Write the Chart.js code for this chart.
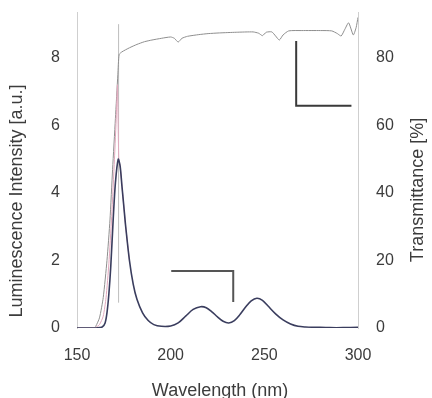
<!DOCTYPE html>
<html>
<head>
<meta charset="utf-8">
<script src="https://cdn.jsdelivr.net/npm/chart.js@4/dist/chart.umd.min.js"></script>
<style>
  html, body { margin: 0; padding: 0; background: #ffffff; }
  #wrap { width: 432px; height: 398px; position: relative; }
</style>
</head>
<body>
<div id="wrap"><canvas id="c" width="432" height="398"></canvas></div>
<script>
// ---- Data ----
const lumWavelengths = [150,156,160,162,163.5,165,166,167,168,169.3,170.5,172,173,174,175,176,178,180,182,185,188,191,195,200,204,208,212,216,219,222,225,228,231,234,237,240,243,246,249,252,256,260,264,268,272,278,285,292,300];
const lumValues      = [0,0,0,0.01,0.03,0.15,0.45,1.0,1.8,3.2,4.3,5.0,4.8,4.2,3.6,3.0,2.0,1.3,0.85,0.45,0.22,0.1,0.05,0.06,0.15,0.35,0.55,0.63,0.6,0.48,0.33,0.2,0.15,0.22,0.4,0.62,0.8,0.88,0.82,0.65,0.42,0.24,0.12,0.05,0.03,0.02,0.01,0.01,0.02];

const refWavelengths = [150,158,160,162,164,165.5,167,168.5,170,171,171.6,172.3,173,174,175,176,178];
const refValues      = [0,0,0.02,0.1,0.35,0.9,1.9,3.3,5.0,6.3,7.2,5.0,4.8,4.2,3.6,3.0,2.0];

const transWavelengths = [150,159,160,162,164,166,167.6,169,170.5,171.8,172.5,174,178,182,186,190,195,200,202,204,206,209,215,220,226,235,244,247,249,251,254,256,258,260,263,270,280,286,289,291,293,295,297.5,299,300];
const transValues      = [0,0,0.5,3,9,20,32,47,62,75,81,81.8,83,84,84.8,85.3,85.8,86.2,85.8,84.7,85.8,86.4,86.9,87.2,87.4,87.6,87.7,87.3,86.6,87.6,87.7,86.5,85.3,86.8,88,88.1,88.1,88,87.2,86.5,88.5,90.4,86.8,89,92];

// excitation marker line (luminescence units)
const markerWavelength = [172.2, 172.2];
const markerValues     = [0.75, 9.0];

// axis-indicator brackets
const transBracketWl  = [267, 267, 296.5];
const transBracketVal = [85, 65.8, 65.8];
const lumBracketWl    = [200.3, 233.4, 233.4];
const lumBracketVal   = [1.69, 1.69, 0.77];

// axes
const xMin = 150, xMax = 300, xStep = 50;
const lumMax = 9.36, lumStep = 2;
const transMax = 93.6, transStep = 20;

const xTitle = 'Wavelength (nm)';
const yTitle = 'Luminescence Intensity [a.u.]';
const y1Title = 'Transmittance [%]';

function pts(xs, ys) { return xs.map((x, i) => ({ x: x, y: ys[i] })); }

const FONT = 'Liberation Sans, Arial, Helvetica, sans-serif';
const TXT = '#3c3c3c';

function noPad(s) { s.paddingTop = 0; s.paddingBottom = 0; s.paddingLeft = 0; s.paddingRight = 0; }

// axis titles (both vertical titles read bottom-to-top, as in the reference)
const titlePlugin = {
  id: 'axisTitles',
  afterDraw(chart) {
    const ctx = chart.ctx;
    ctx.save();
    ctx.fillStyle = TXT;
    ctx.font = '18px ' + FONT;
    ctx.textAlign = 'center';
    ctx.textBaseline = 'middle';
    ctx.fillText(xTitle, 220, 391);
    ctx.save();
    ctx.translate(17, 201);
    ctx.rotate(-Math.PI / 2);
    ctx.fillText(yTitle, 0, 0);
    ctx.restore();
    ctx.save();
    ctx.translate(418, 190);
    ctx.rotate(-Math.PI / 2);
    ctx.fillText(y1Title, 0, 0);
    ctx.restore();
    ctx.restore();
  }
};

new Chart(document.getElementById('c'), {
  type: 'line',
  data: {
    datasets: [
      { data: pts(lumWavelengths, lumValues), yAxisID: 'y', borderColor: '#3a3d5e', borderWidth: 1.6, pointRadius: 0, tension: 0.3 },
      { data: pts(refWavelengths, refValues), yAxisID: 'y', borderColor: '#e2a8bd', borderWidth: 1, pointRadius: 0, tension: 0.2 },
      { data: pts(transWavelengths, transValues), yAxisID: 'y1', borderColor: '#8e8e8e', borderWidth: 1, pointRadius: 0, tension: 0.2 },
      { data: pts(markerWavelength, markerValues), yAxisID: 'y', borderColor: '#bdbdbd', borderWidth: 1, pointRadius: 0 },
      { data: pts(transBracketWl, transBracketVal), yAxisID: 'y1', borderColor: '#3a3a3a', borderWidth: 2, pointRadius: 0 },
      { data: pts(lumBracketWl, lumBracketVal), yAxisID: 'y', borderColor: '#555555', borderWidth: 2, pointRadius: 0 }
    ]
  },
  plugins: [titlePlugin],
  options: {
    responsive: false,
    animation: false,
    events: [],
    layout: { padding: { top: 12, left: 0, right: 0, bottom: 0 } },
    plugins: { legend: { display: false }, tooltip: { enabled: false } },
    scales: {
      x: {
        type: 'linear', min: xMin, max: xMax,
        grid: { display: false, drawTicks: false },
        border: { display: false },
        ticks: { stepSize: xStep, padding: 18, color: TXT, font: { family: FONT, size: 16 } },
        title: { display: false, text: xTitle },
        afterFit: s => { s.height = 70; noPad(s); }
      },
      y: {
        position: 'left', min: 0, max: lumMax,
        grid: { display: false, drawTicks: false },
        border: { display: true, color: '#cfcfcf', width: 1, dash: [2, 2] },
        ticks: { stepSize: lumStep, includeBounds: false, padding: 17, color: TXT, font: { family: FONT, size: 16 } },
        title: { display: false, text: yTitle },
        afterFit: s => { s.width = 77; noPad(s); }
      },
      y1: {
        position: 'right', min: 0, max: transMax,
        grid: { display: false, drawTicks: false },
        border: { display: true, color: '#cfcfcf', width: 1, dash: [2, 2] },
        ticks: { stepSize: transStep, includeBounds: false, padding: 18, color: TXT, font: { family: FONT, size: 16 } },
        title: { display: false, text: y1Title },
        afterFit: s => { s.width = 74; noPad(s); }
      }
    }
  }
});
</script>
</body>
</html>
